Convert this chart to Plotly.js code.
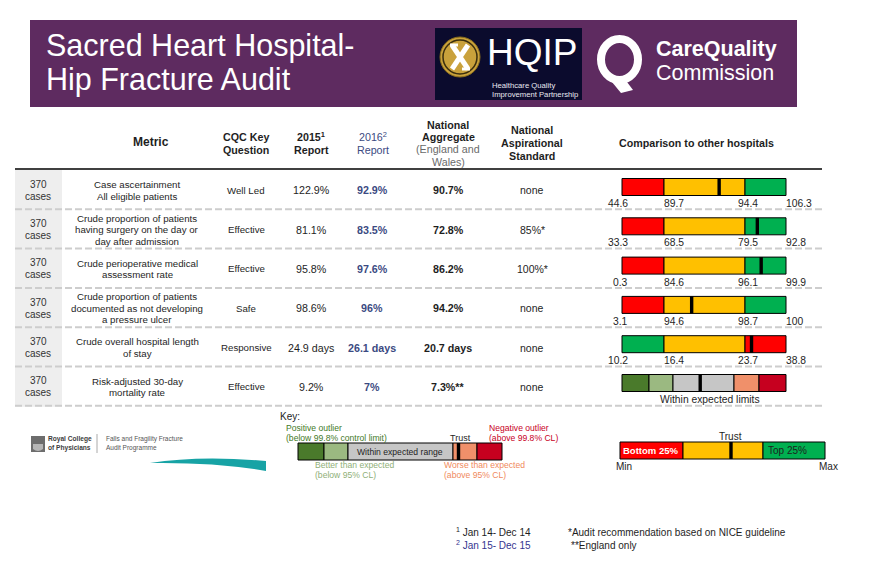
<!DOCTYPE html>
<html><head><meta charset="utf-8">
<script src="https://cdn.plot.ly/plotly-3.0.1.min.js"></script>
<style>html,body{margin:0;padding:0;background:#fff;overflow:hidden}</style>
</head><body><div id="chart" style="width:872px;height:564px"></div>
<script>
// ---------------- DATA ----------------
const reportTitle = ['Sacred Heart Hospital-', 'Hip Fracture Audit'];
const casesCount = [370, 370, 370, 370, 370, 370];
const metricNames = [
  'Case ascertainment<br>All eligible patients',
  'Crude proportion of patients<br>having surgery on the day or<br>day after admission',
  'Crude perioperative medical<br>assessment rate',
  'Crude proportion of patients<br>documented as not developing<br>a pressure ulcer',
  'Crude overall hospital length<br>of stay',
  'Risk-adjusted 30-day<br>mortality rate'
];
const cqcQuestion = ['Well Led', 'Effective', 'Effective', 'Safe', 'Responsive', 'Effective'];
const units = ['%', '%', '%', '%', ' days', '%'];
const values2015 = [122.9, 81.1, 95.8, 98.6, 24.9, 9.2];
const values2016 = [92.9, 83.5, 97.6, 96, 26.1, 7];
const nationalAggregate = [90.7, 72.8, 86.2, 94.2, 20.7, 7.3];
const nationalNote = ['', '', '', '', '', '**'];
const aspirational = ['none', '85%*', '100%*', 'none', 'none', 'none'];
// comparison to other hospitals (rows 1-5): min, lower quartile, upper quartile, max
const compMin = [44.6, 33.3, 0.3, 3.1, 10.2];
const compQ1 = [89.7, 68.5, 84.6, 94.6, 16.4];
const compQ3 = [94.4, 79.5, 96.1, 98.7, 23.7];
const compMax = [106.3, 92.8, 99.9, 100, 38.8];
const lowerIsBetter = [false, false, false, false, true];
const mortalityResult = 'Within expected limits';
const footnotes = ['<sup>1</sup> Jan 14- Dec 14', '<sup>2</sup> Jan 15- Dec 15'];
const notes = ['*Audit recommendation based on NICE guideline', '**England only'];

// ---------------- STYLE / LAYOUT ----------------
const FONT = 'Liberation Sans, Arial, Helvetica, sans-serif';
const TXT = '#1e1e1e';
const BLUE = '#3b4a82';
const RED = '#ff0000', AMBER = '#ffc000', GREEN = '#00b050';
const CI = ['#4a7a2b', '#9bb981', '#c6c6c6', '#f0906a', '#c6001f'];
const ROW_TOP0 = 170, ROW_H = 39.3, NROWS = 6;
const rowTop = i => ROW_TOP0 + i * ROW_H;
const rowMid = i => rowTop(i) + 20.3;
const SEG = [622, 664, 745, 786];            // visual quartile boundaries
const SEG6 = [622, 649, 673, 734, 759, 786];  // CI band boundaries
const BAR_H = 17;

const ann = [];
const shapes = [];
function txt(x, y, text, size, color, opts) {
  ann.push(Object.assign({x: x, y: y, xref: 'x', yref: 'y', text: text, showarrow: false,
    font: {family: FONT, size: size, color: color}, xanchor: 'center', yanchor: 'middle', borderpad: 0}, opts || {}));
}
function lines(x, yc, arr, size, color, spacing, opts) {
  const n = arr.length;
  arr.forEach((t, i) => txt(x, yc + (i - (n - 1) / 2) * spacing, t, size, color, opts));
}
function rect(x0, y0, x1, y1, fill, line) {
  shapes.push({type: 'rect', xref: 'x', yref: 'y', x0: x0, y0: y0, x1: x1, y1: y1, fillcolor: fill,
    line: line || {width: 0}, layer: 'below'});
}

// Banner
rect(30, 20, 797, 107, '#5e2b60');
lines(45, 62, reportTitle, 30.5, '#ffffff', 34, {xanchor: 'left'});
// HQIP logo
rect(435, 28, 582, 100, '#0b0b2d');
shapes.push({type: 'circle', xref: 'x', yref: 'y', x0: 440, y0: 37, x1: 480, y1: 77, fillcolor: '#c9a13b', line: {color: '#8a6d1c', width: 1}});
shapes.push({type: 'circle', xref: 'x', yref: 'y', x0: 443, y0: 40, x1: 477, y1: 74, fillcolor: 'rgba(0,0,0,0)', line: {color: '#3b2f0e', width: 1.5}});
shapes.push({type: 'path', xref: 'x', yref: 'y', path: 'M452,45 L468,69', line: {color: '#ffffff', width: 5}});
shapes.push({type: 'path', xref: 'x', yref: 'y', path: 'M468,45 L452,69', line: {color: '#ffffff', width: 5}});
shapes.push({type: 'path', xref: 'x', yref: 'y', path: 'M450,45 L458,45 M462,69 L470,69', line: {color: '#ffffff', width: 3}});
txt(532, 52, 'HQIP', 37, '#ffffff');
lines(491, 90, ['Healthcare Quality', 'Improvement Partnership'], 7.7, '#e8e8f0', 8.5, {xanchor: 'left'});
// CQC logo
shapes.push({type: 'circle', xref: 'x', yref: 'y', x0: 601, y0: 39, x1: 638, y1: 80, fillcolor: 'rgba(0,0,0,0)', line: {color: '#ffffff', width: 8}});
shapes.push({type: 'path', xref: 'x', yref: 'y', path: 'M607,76 L621,93 L633,90 L624,78 Z', fillcolor: '#ffffff', line: {width: 0}});
txt(655, 48.5, '<b>CareQuality</b>', 21.5, '#ffffff', {xanchor: 'left'});
txt(655, 72.5, 'Commission', 21.5, '#ffffff', {xanchor: 'left'});

// Table header
txt(151, 142, '<b>Metric</b>', 12, TXT);
lines(246, 143, ['<b>CQC Key</b>', '<b>Question</b>'], 10.7, TXT, 13);
lines(311, 143, ['<b>2015<sup>1</sup></b>', '<b>Report</b>'], 10.7, TXT, 13);
lines(373, 143, ['2016<sup>2</sup>', 'Report'], 10.7, BLUE, 13);
lines(448, 131, ['<b>National</b>', '<b>Aggregate</b>'], 10.7, TXT, 12.3);
lines(448, 155.6, ['(England and', 'Wales)'], 10.7, '#6a6a6a', 12.3);
lines(532, 143, ['<b>National</b>', '<b>Aspirational</b>', '<b>Standard</b>'], 10.7, TXT, 12.7);
txt(696, 143, '<b>Comparison to other hospitals</b>', 10.7, TXT);
shapes.push({type: 'line', xref: 'x', yref: 'y', x0: 15, x1: 822, y0: 169, y1: 169, line: {color: '#000', width: 1.5}});

// Gray left column and separators
rect(15, 170, 62, rowTop(NROWS) + 1, '#eeeeee');
for (let i = 1; i <= NROWS; i++) {
  shapes.push({type: 'line', xref: 'x', yref: 'y', x0: 15, x1: 822, y0: rowTop(i), y1: rowTop(i),
    line: {color: '#cdcdcd', width: 2, dash: '7px,3px'}});
}

// Row texts
for (let i = 0; i < NROWS; i++) {
  const ym = rowMid(i);
  lines(38, ym, [String(casesCount[i]), 'cases'], 10, '#333', 12);
  lines(137, ym, metricNames[i].split('<br>'), 9.7, TXT, 11.6);
  txt(246, ym, cqcQuestion[i], 9.7, TXT);
  txt(311, ym, values2015[i] + units[i], 10.7, TXT);
  txt(372, ym, '<b>' + values2016[i] + units[i] + '</b>', 10.7, BLUE);
  txt(448, ym, '<b>' + nationalAggregate[i] + units[i] + nationalNote[i] + '</b>', 10.7, TXT);
  txt(532, ym, aspirational[i], 10.5, TXT);
}

// ---------------- Comparison bars ----------------
const traces = [];
const nq = compMin.length;
const barY = [...Array(nq).keys()].map(i => rowTop(i) + 8.5 + BAR_H / 2);
const segColors = [
  lowerIsBetter.map(l => l ? GREEN : RED),
  lowerIsBetter.map(() => AMBER),
  lowerIsBetter.map(l => l ? RED : GREEN)
];
for (let s = 0; s < 3; s++) {
  traces.push({type: 'bar', orientation: 'h', y: barY, base: barY.map(() => SEG[s]),
    x: barY.map(() => SEG[s + 1] - SEG[s]), width: BAR_H,
    marker: {color: segColors[s], line: {color: '#000', width: 1}}, hoverinfo: 'skip', showlegend: false});
}
// trust marker position: piecewise-linear through the quartile scale
function qpos(v, q) {
  for (let k = 0; k < 3; k++) {
    if (v <= q[k + 1] || k === 2) {
      return SEG[k] + (v - q[k]) / (q[k + 1] - q[k]) * (SEG[k + 1] - SEG[k]);
    }
  }
}
const trustX = [];
for (let i = 0; i < nq; i++) {
  const q = [compMin[i], compQ1[i], compQ3[i], compMax[i]];
  trustX.push(qpos(values2016[i], q));
  const ly = rowTop(i) + 33.5;
  txt(629, ly, String(compMin[i]), 10.3, TXT, {xanchor: 'right'});
  txt(663, ly, String(compQ1[i]), 10.3, TXT, {xanchor: 'left'});
  txt(737, ly, String(compQ3[i]), 10.3, TXT, {xanchor: 'left'});
  txt(785, ly, String(compMax[i]), 10.3, TXT, {xanchor: 'left'});
}
traces.push({type: 'bar', orientation: 'h', y: barY, base: trustX.map(v => v - 1.7), x: trustX.map(() => 3.4),
  width: BAR_H, marker: {color: '#000', line: {width: 0}}, hoverinfo: 'skip', showlegend: false});

// mortality (CI band) row
const y6 = rowTop(5) + 8 + BAR_H / 2;
traces.push({type: 'bar', orientation: 'h', y: CI.map(() => y6), base: SEG6.slice(0, 5),
  x: SEG6.slice(1).map((v, k) => v - SEG6[k]), width: BAR_H,
  marker: {color: CI, line: {color: '#000', width: 1}}, hoverinfo: 'skip', showlegend: false});
const midGray = (SEG6[2] + SEG6[3]) / 2;
traces.push({type: 'bar', orientation: 'h', y: [y6], base: [midGray - 5], x: [3.4], width: BAR_H,
  marker: {color: '#000', line: {width: 0}}, hoverinfo: 'skip', showlegend: false});
txt(710, rowTop(5) + 33, mortalityResult, 10.3, TXT);

// ---------------- Keys ----------------
txt(279, 416, 'Key:', 10, TXT, {xanchor: 'left'});
lines(285, 433, ['Positive outlier', '(below 99.8% control limit)'], 8.6, '#3f7a1f', 9.8, {xanchor: 'left'});
lines(488, 433, ['Negative outlier', '(above 99.8% CL)'], 8.6, '#c8001e', 9.8, {xanchor: 'left'});
lines(314, 470, ['Better than expected', '(below 95% CL)'], 8.6, '#8faf78', 9.8, {xanchor: 'left'});
lines(443, 470, ['Worse than expected', '(above 95% CL)'], 8.6, '#f08a5d', 9.8, {xanchor: 'left'});
txt(460, 438, 'Trust', 9, TXT);
const KEY1 = [298, 324, 348, 453, 477, 502];
const keyY = 451.5;
traces.push({type: 'bar', orientation: 'h', y: CI.map(() => keyY), base: KEY1.slice(0, 5),
  x: KEY1.slice(1).map((v, k) => v - KEY1[k]), width: BAR_H,
  marker: {color: CI, line: {color: '#000', width: 1}}, hoverinfo: 'skip', showlegend: false});
traces.push({type: 'bar', orientation: 'h', y: [keyY], base: [456.8], x: [3.4], width: BAR_H,
  marker: {color: '#000', line: {width: 0}}, hoverinfo: 'skip', showlegend: false});
txt(400, 452, 'Within expected range', 8.6, TXT);

const KEY2 = [620, 683, 763, 825];
const key2Y = 450.5;
traces.push({type: 'bar', orientation: 'h', y: [key2Y, key2Y, key2Y], base: KEY2.slice(0, 3),
  x: KEY2.slice(1).map((v, k) => v - KEY2[k]), width: BAR_H,
  marker: {color: [RED, AMBER, GREEN], line: {color: '#000', width: 1}}, hoverinfo: 'skip', showlegend: false});
traces.push({type: 'bar', orientation: 'h', y: [key2Y], base: [729.3], x: [3.4], width: BAR_H,
  marker: {color: '#000', line: {width: 0}}, hoverinfo: 'skip', showlegend: false});
txt(730, 436, 'Trust', 10, TXT);
txt(622, 450.5, '<b>Bottom 25%</b>', 9.5, '#ffffff', {xanchor: 'left'});
txt(767, 450.5, 'Top 25%', 10, TXT, {xanchor: 'left'});
txt(615, 466, 'Min', 10, TXT, {xanchor: 'left'});
txt(818, 466, 'Max', 10, TXT, {xanchor: 'left'});

// ---------------- Royal College logo ----------------
rect(31, 436, 45, 452, '#6d6d6d');
shapes.push({type: 'path', xref: 'x', yref: 'y', path: 'M33,444 L43,444 L43,449 Q38,453 33,449 Z', fillcolor: '#b5b5b5', line: {width: 0}});
lines(47, 443.5, ['<b>Royal College</b>', '<b>of Physicians</b>'], 6.6, '#3c3c3c', 8.4, {xanchor: 'left'});
shapes.push({type: 'line', xref: 'x', yref: 'y', x0: 97, x1: 97, y0: 434, y1: 453, line: {color: '#aaaaaa', width: 1}});
lines(105, 443.5, ['Falls and Fragility Fracture', 'Audit Programme'], 6.5, '#555555', 8.4, {xanchor: 'left'});
shapes.push({type: 'path', xref: 'x', yref: 'y', path: 'M150,463 Q200,455 266,461 L266,471 Q215,462 150,463 Z', fillcolor: '#17a3a5', line: {width: 0}});

// ---------------- Footnotes ----------------
txt(455, 532, footnotes[0], 10, TXT, {xanchor: 'left'});
txt(455, 545, footnotes[1], 10, '#35358f', {xanchor: 'left'});
txt(567, 532, notes[0], 10, TXT, {xanchor: 'left'});
txt(570, 545, notes[1], 10, TXT, {xanchor: 'left'});

const layout = {
  width: 872, height: 564, margin: {l: 0, r: 0, t: 0, b: 0},
  paper_bgcolor: '#ffffff', plot_bgcolor: '#ffffff',
  xaxis: {range: [0, 872], visible: false, fixedrange: true},
  yaxis: {range: [564, 0], visible: false, fixedrange: true},
  barmode: 'overlay', showlegend: false,
  shapes: shapes, annotations: ann
};
Plotly.newPlot('chart', traces, layout, {staticPlot: true, displayModeBar: false});
</script>
</body></html>
